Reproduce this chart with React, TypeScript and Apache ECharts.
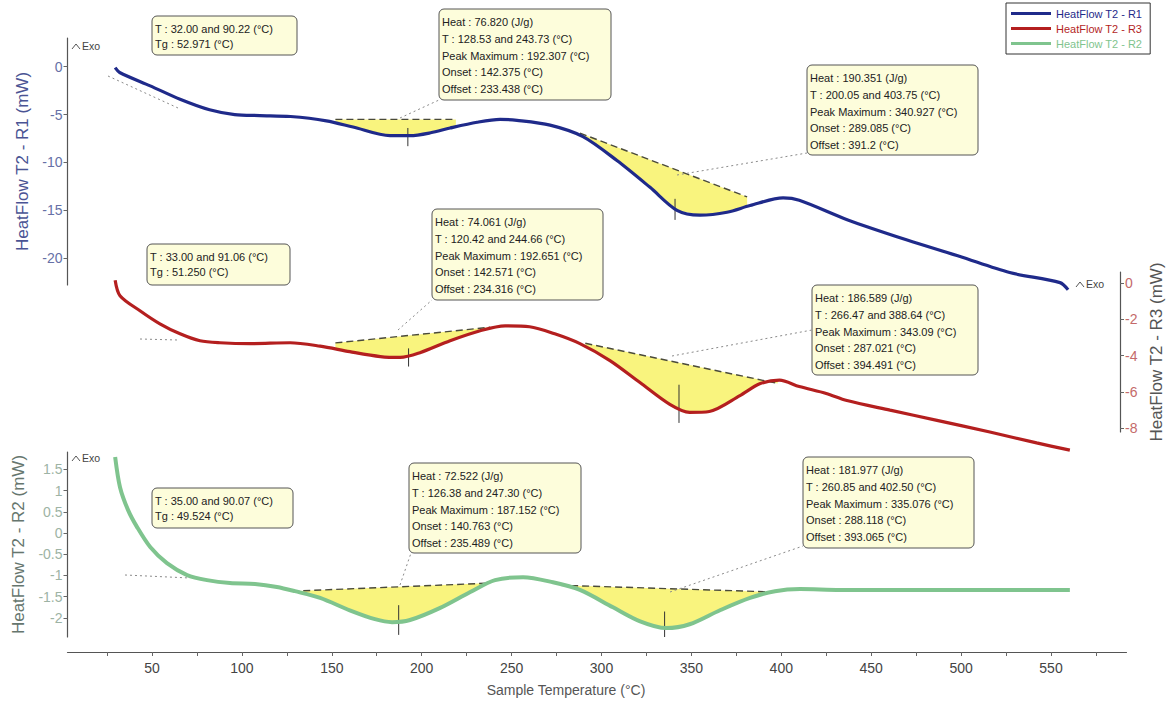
import React, { useEffect, useRef } from "react";
import * as echarts from "echarts";

const FONT = "'Liberation Sans', Arial, Helvetica, sans-serif";

// ---------- data ----------
const seriesNames = ["HeatFlow T2 - R1", "HeatFlow T2 - R3", "HeatFlow T2 - R2"];
const seriesColors = ["#1f2a8a", "#b41f1f", "#7fc48e"];

const xTickValues = [25, 50, 75, 100, 125, 150, 175, 200, 225, 250, 275, 300, 325, 350, 375, 400, 425, 450, 475, 500, 525, 550, 575];
const xLabelValues = [50, 100, 150, 200, 250, 300, 350, 400, 450, 500, 550];
const r1Ticks = [0, -5, -10, -15, -20];
const r3Ticks = [0, -2, -4, -6, -8];
const r2Ticks = [1.5, 1, 0.5, 0, -0.5, -1, -1.5, -2];

const r1Temp = [29.5, 32, 49, 65.6, 82, 96, 110, 127, 147, 161.8, 182.4, 193.5, 205, 215.8, 230.8, 243.6, 253, 271.4, 289.7, 308.6, 327, 342, 354.8, 369.8, 382.6, 401, 410, 437, 470, 499, 527, 555, 559.5];
const r1Flow = [-0.1, -0.6, -2.0, -3.4, -4.5, -5.0, -5.1, -5.2, -5.65, -6.3, -7.2, -7.2, -6.9, -6.4, -5.8, -5.5, -5.6, -6.1, -7.3, -9.8, -12.6, -15.0, -15.5, -15.2, -14.5, -13.7, -13.95, -16.0, -18.1, -19.8, -21.5, -22.55, -23.3];

const r3Temp = [29.5, 32.2, 43.3, 54.4, 65.6, 76.7, 87.8, 104.5, 126.8, 143.5, 160, 177, 188, 199, 215.8, 232.5, 246.4, 260, 274, 288, 304.7, 321.4, 338, 349, 360, 377, 388, 399, 410, 425, 436.5, 460.5, 486.6, 516, 542, 560.5];
const r3Flow = [0.15, -0.7, -1.53, -2.25, -2.8, -3.18, -3.29, -3.34, -3.29, -3.48, -3.78, -4.05, -4.1, -3.84, -3.18, -2.63, -2.36, -2.41, -2.8, -3.34, -4.27, -5.48, -6.68, -7.12, -7.07, -6.2, -5.55, -5.35, -5.7, -6.08, -6.47, -7.0, -7.56, -8.2, -8.8, -9.2];

const r2Temp = [29.5, 32.2, 36.7, 41.7, 49, 58.3, 69.5, 80.6, 93.4, 107.3, 119.5, 129.5, 143.5, 160, 174, 183.5, 193.5, 210, 227, 240.8, 256.4, 273, 288, 306.4, 321.5, 335.9, 349, 365.9, 382.6, 396.5, 410.5, 432.6, 560.5];
const r2Flow = [1.79, 1.08, 0.54, 0.14, -0.33, -0.71, -0.99, -1.11, -1.18, -1.2, -1.27, -1.37, -1.53, -1.82, -2.03, -2.1, -2.05, -1.77, -1.39, -1.11, -1.04, -1.16, -1.34, -1.75, -2.08, -2.24, -2.15, -1.82, -1.53, -1.37, -1.32, -1.34, -1.34];

// peaks: [startT, startBaseline, endT, endBaseline, peakT, markerTop, markerBottom]
const r1Peaks = [
  [152, -5.5, 219, -5.5, 192.3, -6.4, -8.3],
  [288, -6.93, 381, -13.6, 340.9, -13.8, -16.0],
];
const r3Peaks = [
  [152, -3.3, 238, -2.44, 192.7, -3.6, -4.6],
  [291, -3.32, 398, -5.53, 343.1, -5.6, -7.7],
];
const r2Peaks = [
  [128, -1.37, 238, -1.18, 187.2, -1.7, -2.4],
  [277, -1.23, 396.5, -1.39, 335.1, -1.85, -2.45],
];

const r1TgText = ["T : 32.00 and 90.22 (°C)", "Tg : 52.971 (°C)"];
const r1Peak1Text = ["Heat : 76.820 (J/g)", "T : 128.53 and 243.73 (°C)", "Peak Maximum : 192.307 (°C)", "Onset : 142.375 (°C)", "Offset : 233.438 (°C)"];
const r1Peak2Text = ["Heat : 190.351 (J/g)", "T : 200.05 and 403.75 (°C)", "Peak Maximum : 340.927 (°C)", "Onset : 289.085 (°C)", "Offset : 391.2 (°C)"];
const r3TgText = ["T : 33.00 and 91.06 (°C)", "Tg : 51.250 (°C)"];
const r3Peak1Text = ["Heat : 74.061 (J/g)", "T : 120.42 and 244.66 (°C)", "Peak Maximum : 192.651 (°C)", "Onset : 142.571 (°C)", "Offset : 234.316 (°C)"];
const r3Peak2Text = ["Heat : 186.589 (J/g)", "T : 266.47 and 388.64 (°C)", "Peak Maximum : 343.09 (°C)", "Onset : 287.021 (°C)", "Offset : 394.491 (°C)"];
const r2TgText = ["T : 35.00 and 90.07 (°C)", "Tg : 49.524 (°C)"];
const r2Peak1Text = ["Heat : 72.522 (J/g)", "T : 126.38 and 247.30 (°C)", "Peak Maximum : 187.152 (°C)", "Onset : 140.763 (°C)", "Offset : 235.489 (°C)"];
const r2Peak2Text = ["Heat : 181.977 (J/g)", "T : 260.85 and 402.50 (°C)", "Peak Maximum : 335.076 (°C)", "Onset : 288.118 (°C)", "Offset : 393.065 (°C)"];

// ---------- layout ----------
const boxLayout = [
  { x: 152, y: 16, w: 145, h: 39, lines: r1TgText },
  { x: 439, y: 9, w: 172, h: 91, lines: r1Peak1Text },
  { x: 807, y: 65, w: 171, h: 90, lines: r1Peak2Text },
  { x: 147, y: 244, w: 143, h: 41, lines: r3TgText },
  { x: 432, y: 209, w: 171, h: 91, lines: r3Peak1Text },
  { x: 812, y: 285, w: 166, h: 90, lines: r3Peak2Text },
  { x: 152, y: 488, w: 141, h: 40, lines: r2TgText },
  { x: 409, y: 463, w: 172, h: 90, lines: r2Peak1Text },
  { x: 803, y: 457, w: 171, h: 91, lines: r2Peak2Text },
];

const leaderLines = [
  [400, 118, 439, 100],
  [677, 175, 807, 153],
  [398, 330, 432, 300],
  [672, 356, 812, 330],
  [400, 585, 411, 553],
  [670, 592, 803, 546],
  [108, 76, 178, 108],
  [140, 339, 178, 340],
  [125, 575, 190, 578],
];

const exoMarks = [
  [72, 49],
  [72, 461],
  [1076, 287],
];

function interp(ts: number[], vs: number[], t: number) {
  for (let i = 0; i < ts.length - 1; i++) {
    if (t >= ts[i] && t <= ts[i + 1]) {
      const f = (t - ts[i]) / (ts[i + 1] - ts[i]);
      return vs[i] + f * (vs[i + 1] - vs[i]);
    }
  }
  return vs[vs.length - 1];
}

function peakSeries(idx: number, ts: number[], vs: number[], peaks: number[][]) {
  return {
    type: "custom",
    xAxisIndex: idx,
    yAxisIndex: idx,
    z: 1,
    silent: true,
    data: peaks,
    renderItem: (params: any, api: any) => {
      const p = peaks[params.dataIndex];
      const [t1, b1, t2, b2, tp, mt, mb] = p;
      const pts: number[][] = [api.coord([t1, b1]), api.coord([t2, b2])];
      pts.push(api.coord([t2, interp(ts, vs, t2)]));
      for (let i = ts.length - 1; i >= 0; i--) {
        if (ts[i] < t2 && ts[i] > t1) pts.push(api.coord([ts[i], vs[i]]));
      }
      pts.push(api.coord([t1, interp(ts, vs, t1)]));
      const a = api.coord([t1, b1]);
      const b = api.coord([t2, b2]);
      const m1 = api.coord([tp, mt]);
      const m2 = api.coord([tp, mb]);
      return {
        type: "group",
        children: [
          { type: "polygon", shape: { points: pts }, style: { fill: "#f9f47e", stroke: "none" } },
          { type: "line", shape: { x1: a[0], y1: a[1], x2: b[0], y2: b[1] }, style: { stroke: "#4a4a3a", lineWidth: 1.4, lineDash: [7, 4] } },
          { type: "line", shape: { x1: m1[0], y1: m1[1], x2: m2[0], y2: m2[1] }, style: { stroke: "#333", lineWidth: 1 } },
        ],
      };
    },
  };
}

function lineSeries(idx: number, ts: number[], vs: number[]) {
  return {
    type: "line",
    name: seriesNames[idx],
    xAxisIndex: idx,
    yAxisIndex: idx,
    data: ts.map((t, i) => [t, vs[i]]),
    smooth: 0.3,
    showSymbol: false,
    symbol: "none",
    clip: false,
    z: 3,
    lineStyle: { color: seriesColors[idx], width: idx === 2 ? 4 : 3.2 },
    itemStyle: { color: seriesColors[idx] },
  };
}

const gridBase = { left: 67.5, right: 41.5, outerBoundsMode: "none", containLabel: false };

function xAxis(gridIndex: number, visible: boolean) {
  return {
    type: "value",
    gridIndex,
    min: 3,
    max: 592,
    show: visible,
    offset: 15,
    splitLine: { show: false },
    axisLine: { show: true, onZero: false, lineStyle: { color: "#555", width: 1.2 } },
    axisTick: { show: true, customValues: xTickValues, length: 4, lineStyle: { color: "#666" } },
    axisLabel: { customValues: xLabelValues, color: "#444", fontSize: 14, margin: 9, fontFamily: FONT },
    name: visible ? "Sample Temperature (°C)" : "",
    nameLocation: "middle",
    nameGap: 31,
    nameTextStyle: { color: "#555", fontSize: 14, fontFamily: FONT, padding: [0, 62, 0, 0] },
  };
}

function yAxis(gridIndex: number, opts: any) {
  return {
    type: "value",
    gridIndex,
    position: opts.position,
    offset: opts.offset,
    min: opts.min,
    max: opts.max,
    splitLine: { show: false },
    axisLine: { show: true, onZero: false, lineStyle: { color: "#555", width: 1.2 } },
    axisTick: { show: true, customValues: opts.ticks, length: 4, lineStyle: { color: "#666" } },
    axisLabel: { customValues: opts.ticks, color: opts.labelColor, fontSize: 14, margin: 5, fontFamily: FONT },
    name: opts.name,
    nameLocation: "middle",
    nameRotate: 90,
    nameGap: opts.nameGap,
    nameTextStyle: { color: opts.nameColor, fontSize: 17, fontFamily: FONT },
  };
}

const graphics: any[] = [];
leaderLines.forEach((l) => {
  graphics.push({
    type: "line",
    shape: { x1: l[0], y1: l[1], x2: l[2], y2: l[3] },
    style: { stroke: "#8a8a8a", lineWidth: 1, lineDash: [2, 3] },
    z: 5,
  });
});
boxLayout.forEach((b) => {
  graphics.push({
    type: "group",
    x: b.x,
    y: b.y,
    z: 10,
    children: [
      { type: "rect", shape: { x: 0, y: 0, width: b.w, height: b.h, r: 5 }, style: { fill: "#fdfddb", stroke: "#555", lineWidth: 1 } },
      {
        type: "text",
        style: {
          x: 3,
          y: 5,
          text: b.lines.join("\n"),
          fontSize: 11,
          fontFamily: FONT,
          lineHeight: b.lines.length > 2 ? 16.6 : 15.5,
          fill: "#222",
          verticalAlign: "top",
        },
      },
    ],
  });
});
exoMarks.forEach((e) => {
  graphics.push({
    type: "polyline",
    shape: { points: [[e[0], e[1]], [e[0] + 4, e[1] - 5], [e[0] + 8, e[1]]] },
    style: { stroke: "#555", lineWidth: 1, fill: "none" },
  });
  graphics.push({
    type: "text",
    style: { x: e[0] + 10, y: e[1] - 3, text: "Exo", fontSize: 10.5, fontFamily: FONT, fill: "#444", verticalAlign: "middle" },
  });
});

const option: any = {
  animation: false,
  backgroundColor: "#ffffff",
  textStyle: { fontFamily: FONT },
  grid: [
    { ...gridBase, top: 38, height: 247 },
    { ...gridBase, top: 272, height: 160 },
    { ...gridBase, top: 452, height: 185 },
  ],
  xAxis: [xAxis(0, false), xAxis(1, false), xAxis(2, true)],
  yAxis: [
    yAxis(0, { position: "left", offset: 0, min: -22.8, max: 3, ticks: r1Ticks, labelColor: "#6670a6", name: "HeatFlow T2 - R1 (mW)", nameColor: "#4a5494", nameGap: 34 }),
    yAxis(1, { position: "right", offset: -6.5, min: -8.2, max: 0.6, ticks: r3Ticks, labelColor: "#c46a6a", name: "HeatFlow T2 - R3 (mW)", nameColor: "#555", nameGap: 28 }),
    yAxis(2, { position: "left", offset: 0, min: -2.45, max: 1.91, ticks: r2Ticks, labelColor: "#9db3a4", name: "HeatFlow T2 - R2 (mW)", nameColor: "#66766e", nameGap: 38 }),
  ],
  legend: {
    orient: "vertical",
    left: 1006,
    top: 3,
    icon: "rect",
    itemWidth: 40,
    itemHeight: 3,
    itemGap: 4,
    padding: [5, 8, 5, 5],
    borderColor: "#333",
    borderWidth: 1,
    backgroundColor: "#fff",
    textStyle: { fontSize: 11, fontFamily: FONT },
    data: seriesNames.map((n, i) => ({ name: n, textStyle: { color: seriesColors[i] } })),
  },
  series: [
    peakSeries(0, r1Temp, r1Flow, r1Peaks),
    peakSeries(1, r3Temp, r3Flow, r3Peaks),
    peakSeries(2, r2Temp, r2Flow, r2Peaks),
    lineSeries(0, r1Temp, r1Flow),
    lineSeries(1, r3Temp, r3Flow),
    lineSeries(2, r2Temp, r2Flow),
  ],
  graphic: graphics,
};

export default function App() {
  const ref = useRef<HTMLDivElement>(null);
  useEffect(() => {
    const chart = echarts.init(ref.current!, null, { renderer: "svg" });
    chart.setOption(option);
    return () => chart.dispose();
  }, []);
  return <div ref={ref} style={{ position: "fixed", left: 0, top: 0, width: 1168, height: 704 }} />;
}
